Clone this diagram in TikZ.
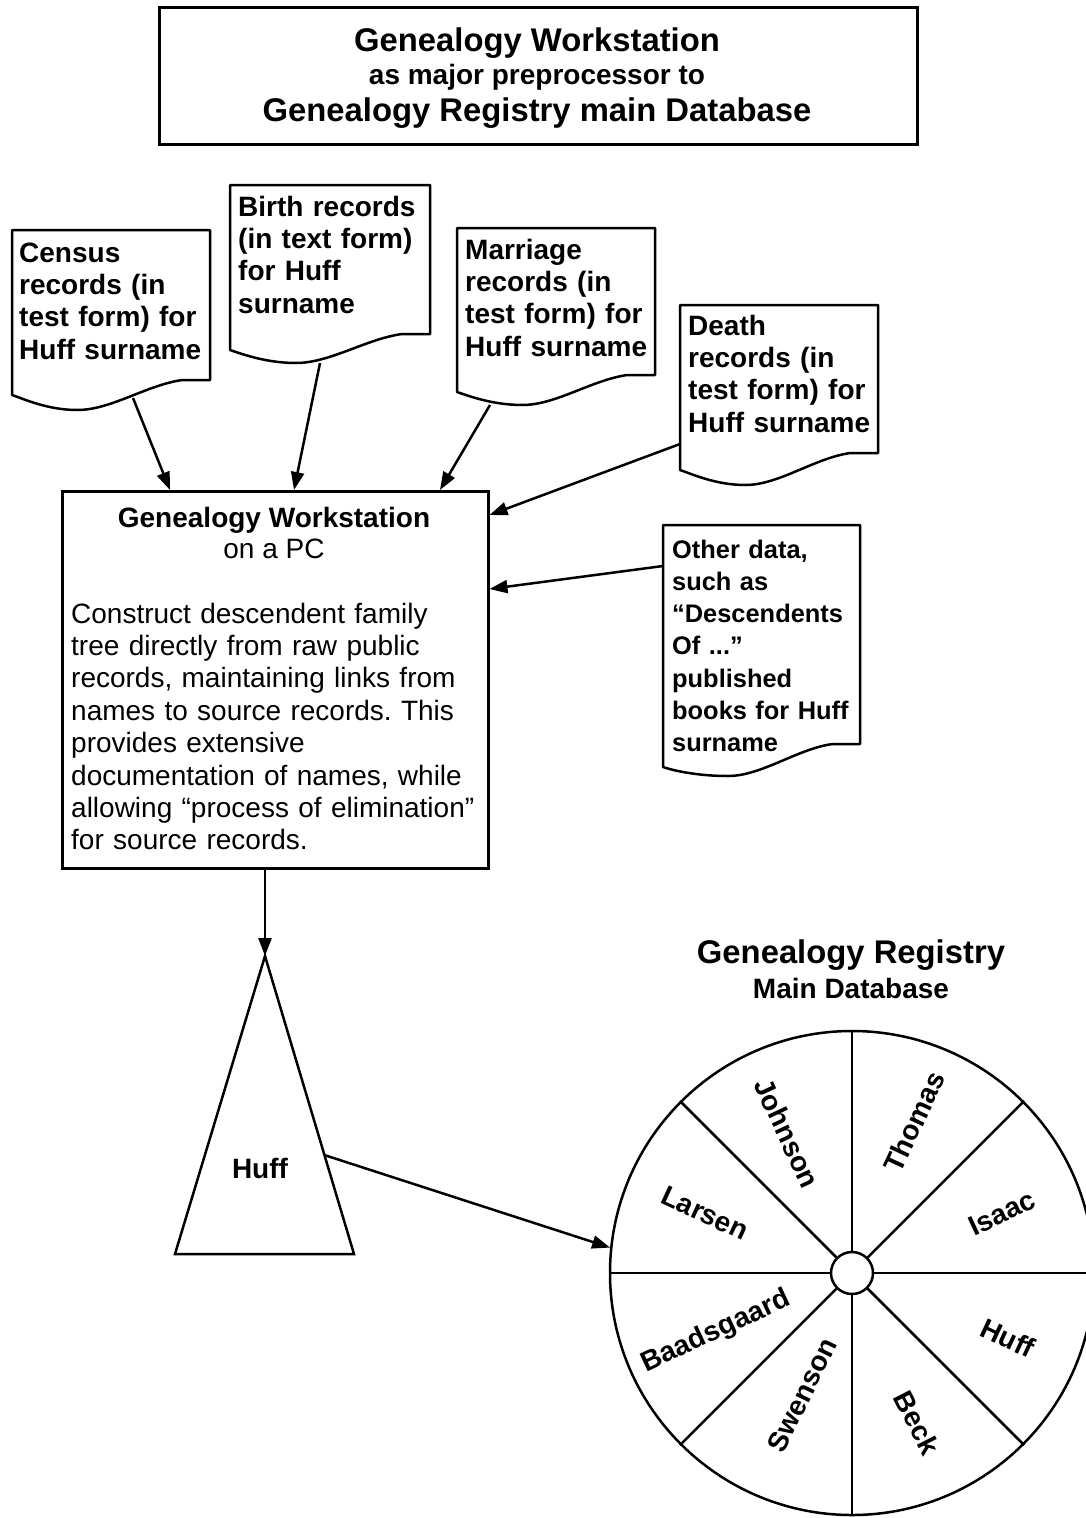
\documentclass[tikz,border=0pt]{standalone}
\usepackage{fontspec}
\setmainfont{Liberation Sans}
\usetikzlibrary{arrows.meta,calc}
\frenchspacing
\tikzset{
  every picture/.style={x=1pt,y=-1pt},
  lw/.style={line width=2.5pt},
  box/.style={draw, line width=2.5pt, inner sep=0pt, anchor=north west},
  docline/.style={draw, line width=2.5pt, fill=white, line join=round},
  arr/.style={line width=2.5pt, -{Triangle[length=18pt,width=13pt]}},
  doctext/.style={anchor=base west, align=left, inner sep=0pt, text width=240pt,
    font=\fontsize{28}{32.4}\selectfont\bfseries},
  bodytext/.style={anchor=base west, align=left, inner sep=0pt, text width=420pt,
    font=\fontsize{28}{32.4}\selectfont},
  headA/.style={anchor=base, inner sep=0pt, font=\fontsize{32.8}{36}\selectfont\bfseries},
  headB/.style={anchor=base, inner sep=0pt, font=\fontsize{28}{32}\selectfont\bfseries},
  wlabel/.style={inner sep=0pt, font=\fontsize{28}{32}\selectfont\bfseries},
}
% document shape: x0 y0 x1 yright yleft ylow
\newcommand\docshape[6]{%
  \draw[docline] (#1,#2) -- (#3,#2) -- (#3,#4) -- ({#3-0.14*(#3-#1)},#4)
    .. controls ({#3-0.32*(#3-#1)},{#4+5}) and ({#1+0.5*(#3-#1)},#6) .. ({#1+0.33*(#3-#1)},#6)
    .. controls ({#1+0.18*(#3-#1)},#6) and ({#1+0.06*(#3-#1)},{#5+4}) .. (#1,#5) -- cycle;}
\begin{document}
\begin{tikzpicture}
\useasboundingbox (0,0) rectangle (1086,1518);
\clip (0,0) rectangle (1086,1518);
\fill[white] (0,0) rectangle (1086,1518);

% title
\node[box, minimum width=758pt, minimum height=137pt] (title) at (158,6) {};
\node[headA] (t1) at (537,51) {Genealogy Workstation};
\node[headB] (t2) at (537,84) {as major preprocessor to};
\node[headA] (t3) at (537,121) {Genealogy Registry main Database};

% documents
\docshape{12}{230}{210}{380}{395}{410}
\node[doctext] (census) at (19,262) {Census\\records (in\\test form) for\\Huff surname};
\docshape{230}{185}{430}{334}{350}{363}
\node[doctext] (birth) at (238,216) {Birth records\\(in text form)\\for Huff\\surname};
\docshape{457}{228}{655}{375}{392}{405}
\node[doctext] (marriage) at (465,259) {Marriage\\records (in\\test form) for\\Huff surname};
\docshape{680}{305}{878}{453}{470}{485}
\node[doctext] (death) at (688,335) {Death\\records (in\\test form) for\\Huff surname};
\docshape{663}{525}{860}{744}{767}{776}
\node[doctext, font=\fontsize{25.4}{32.3}\selectfont\bfseries] (other) at (672,558)
  {Other data,\\such as\\``Descendents\\Of ...''\\published\\books for Huff\\surname};

% workstation
\node[box, minimum width=426pt, minimum height=377pt] (ws) at (61,490) {};
\node[headB] (wst) at (274,527) {Genealogy Workstation};
\node[anchor=base, inner sep=0pt, font=\fontsize{28}{32}\selectfont] (wss) at (274,558) {on a PC};
\node[bodytext] (wsb) at (71,623) {Construct descendent family\\tree directly from raw public\\records, maintaining links from\\names to source records. This\\provides extensive\\documentation of names, while\\allowing ``process of elimination''\\for source records.};

% arrows into workstation
\coordinate (cout) at (133,398);
\coordinate (bout) at (320,363);
\coordinate (mout) at (490,405);
\coordinate (dout) at (680,444);
\coordinate (oout) at (663,566);
\draw[arr] (cout) -- ($(ws.north west)+(109,0)$);
\draw[arr] (bout) -- ($(ws.north west)+(233,0)$);
\draw[arr] (mout) -- ($(ws.north west)+(379,0)$);
\draw[arr] (dout) -- ($(ws.north east)+(0,25)$);
\draw[arr] (oout) -- ($(ws.north east)+(0,99)$);

% triangle
\coordinate (apex) at (265,956);
\coordinate (bl) at (175,1254);
\coordinate (br) at (354,1254);
\draw[lw, line join=miter] (apex) -- (br) -- (bl) -- cycle;
\node[wlabel] (hufft) at (260,1168) {Huff};
\coordinate (triout) at ($(apex)!0.668!(br)$);
\draw[arr] (ws.south -| apex) -- (apex);

% wheel
\node[circle, draw, line width=2.5pt, minimum size=484pt, inner sep=0pt] (wheel) at (852,1273) {};
\node[circle, draw, line width=2.5pt, fill=white, minimum size=42pt, inner sep=0pt] (hub) at (852,1273) {};
\foreach \a in {0,45,...,315} \draw[lw] (hub.\a) -- (wheel.\a);
\draw[arr] (triout) -- (wheel.174.5);

\node[headA] (reg1) at (851,963) {Genealogy Registry};
\node[headB] (reg2) at (851,998) {Main Database};

\node[wlabel, rotate=-65] (l1) at (787,1133) {Johnson};
\node[wlabel, rotate=65] (l2) at (914,1122) {Thomas};
\node[wlabel, rotate=25] (l3) at (1002,1213) {Isaac};
\node[wlabel, rotate=-25] (l4) at (1008,1338) {Huff};
\node[wlabel, rotate=-63] (l5) at (917,1423) {Beck};
\node[wlabel, rotate=64] (l6) at (802,1395) {Swenson};
\node[wlabel, rotate=25] (l7) at (716,1332) {Baadsgaard};
\node[wlabel, rotate=-25] (l8) at (705,1213) {Larsen};
\end{tikzpicture}
\end{document}
